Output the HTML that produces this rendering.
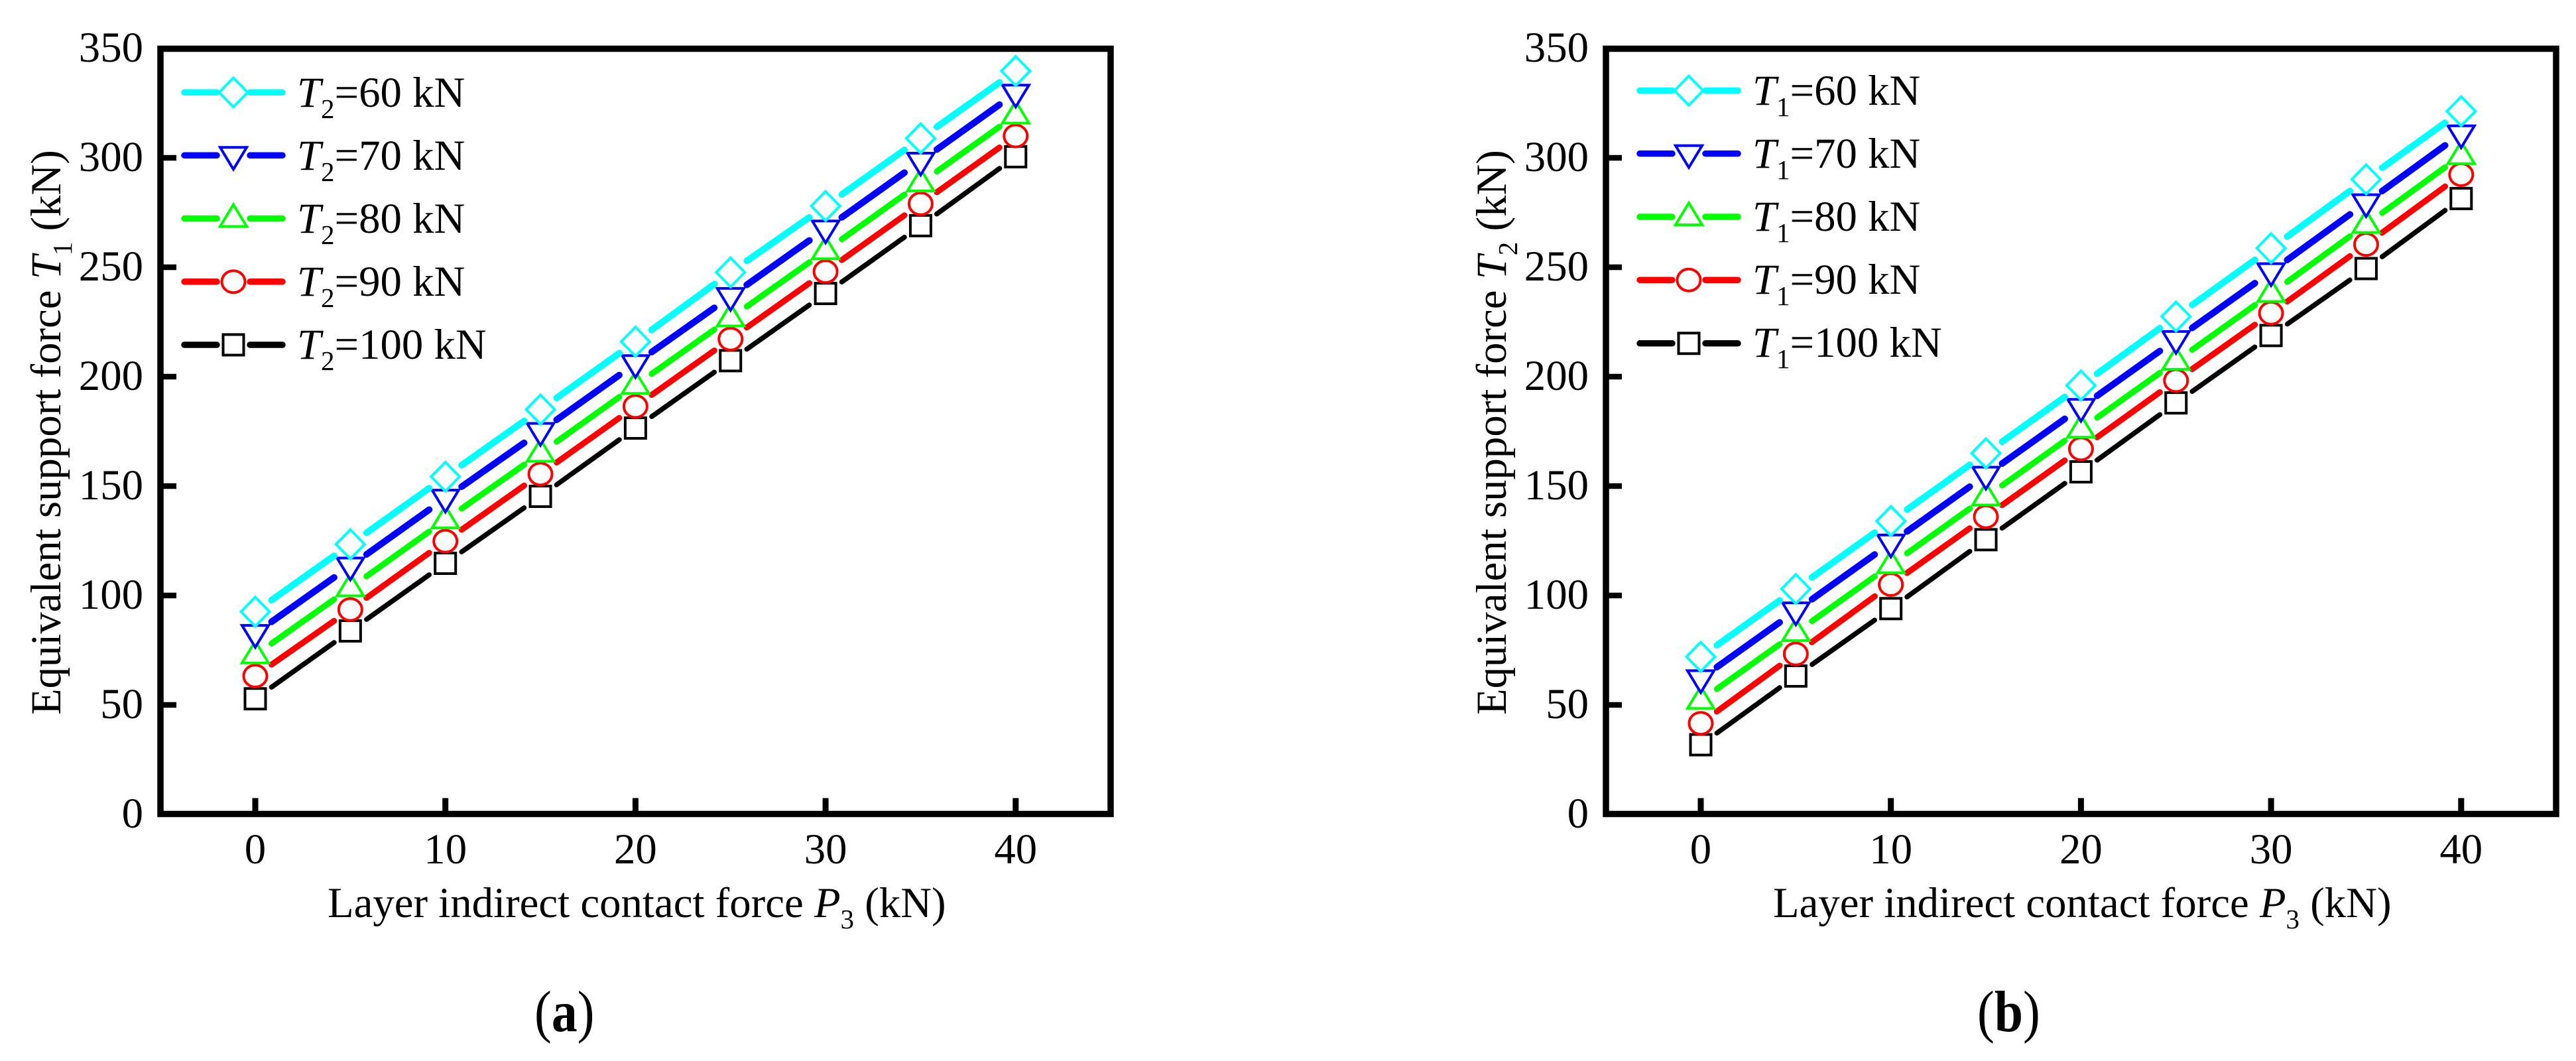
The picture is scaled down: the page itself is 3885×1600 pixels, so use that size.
<!DOCTYPE html>
<html lang="en">
<head>
<meta charset="utf-8">
<title>Equivalent support force vs layer indirect contact force</title>
<style>
html,body{margin:0;padding:0;background:#fff;}
body{width:3885px;height:1600px;overflow:hidden;}
svg{display:block;}
text{font-family:"Liberation Serif",serif;font-size:64.8px;fill:#000;}
.sub{font-size:41px;}
.it{font-style:italic;}
.cap{font-size:80px;}
.b{font-weight:bold;}
</style>
</head>
<body>
<svg id="figure" xmlns="http://www.w3.org/2000/svg" width="3885" height="1600" viewBox="0 0 3885 1600">
  <rect x="0" y="0" width="3885" height="1600" fill="#fff"/>

  <g id="panel-a">
    <g id="marks-a"></g>
    <text transform="translate(91 1078) rotate(-90)">Equivalent support force <tspan class="it">T</tspan><tspan class="sub" dy="17">1</tspan><tspan dy="-17"> (kN)</tspan></text>
    <text x="494" y="1383">Layer indirect contact force <tspan class="it">P</tspan><tspan class="sub" dy="17">3</tspan><tspan dy="-17"> (kN)</tspan></text>
    <text x="448" y="161"><tspan class="it">T</tspan><tspan class="sub" dy="17">2</tspan><tspan dy="-17">=60 kN</tspan></text>
    <text x="448" y="256"><tspan class="it">T</tspan><tspan class="sub" dy="17">2</tspan><tspan dy="-17">=70 kN</tspan></text>
    <text x="448" y="351"><tspan class="it">T</tspan><tspan class="sub" dy="17">2</tspan><tspan dy="-17">=80 kN</tspan></text>
    <text x="448" y="446"><tspan class="it">T</tspan><tspan class="sub" dy="17">2</tspan><tspan dy="-17">=90 kN</tspan></text>
    <text x="448" y="541"><tspan class="it">T</tspan><tspan class="sub" dy="17">2</tspan><tspan dy="-17">=100 kN</tspan></text>
    <text class="cap" transform="translate(806 1555) scale(0.97 1.1)">(<tspan class="b">a</tspan>)</text>
  </g>

  <g id="panel-b">
    <g id="marks-b"></g>
    <text transform="translate(2271 1078) rotate(-90)">Equivalent support force <tspan class="it">T</tspan><tspan class="sub" dy="17">2</tspan><tspan dy="-17"> (kN)</tspan></text>
    <text x="2674" y="1383">Layer indirect contact force <tspan class="it">P</tspan><tspan class="sub" dy="17">3</tspan><tspan dy="-17"> (kN)</tspan></text>
    <text x="2643" y="158"><tspan class="it">T</tspan><tspan class="sub" dy="17">1</tspan><tspan dy="-17">=60 kN</tspan></text>
    <text x="2643" y="253"><tspan class="it">T</tspan><tspan class="sub" dy="17">1</tspan><tspan dy="-17">=70 kN</tspan></text>
    <text x="2643" y="348"><tspan class="it">T</tspan><tspan class="sub" dy="17">1</tspan><tspan dy="-17">=80 kN</tspan></text>
    <text x="2643" y="443"><tspan class="it">T</tspan><tspan class="sub" dy="17">1</tspan><tspan dy="-17">=90 kN</tspan></text>
    <text x="2643" y="538"><tspan class="it">T</tspan><tspan class="sub" dy="17">1</tspan><tspan dy="-17">=100 kN</tspan></text>
    <text class="cap" transform="translate(2982 1555) scale(0.97 1.1)">(<tspan class="b">b</tspan>)</text>
  </g>
</svg>

<script>
// Shared axes
const xCategories = [0, 5, 10, 15, 20, 25, 30, 35, 40];
const xTickLabels = [0, 10, 20, 30, 40];
const yTickLabels = [0, 50, 100, 150, 200, 250, 300, 350];

// Panel (a): T1 for each value of T2
const panelA60  = [92.6, 123.4, 154.3, 185, 216, 247.7, 278, 308.9, 339.7];
const panelA70  = [82.7, 113.5, 144.5, 175, 206, 236.7, 267.5, 298.5, 329.6];
const panelA80  = [72.8, 103.5, 134.5, 165, 196, 226.8, 257.5, 288.5, 319.5];
const panelA90  = [63.2, 93.6, 124.8, 155.5, 186.4, 217.2, 248, 279, 310];
const panelA100 = [52.8, 83.8, 114.7, 145.3, 176.5, 207.3, 238, 269, 300.5];

// Panel (b): T2 for each value of T1
const panelB60  = [72, 103, 134, 165, 196, 227.5, 258.7, 290.2, 321.3];
const panelB70  = [62, 93, 124, 155, 186, 217, 248, 279.5, 311];
const panelB80  = [52, 83, 114, 145, 176, 207, 238, 269.5, 301];
const panelB90  = [41.6, 73.3, 105, 136, 167, 198.2, 229, 260.4, 292.3];
const panelB100 = [31.8, 63.2, 94, 125.5, 156.5, 188, 218.8, 249.4, 281.4];

const seriesLevels = [100, 90, 80, 70, 60];
const SVGNS = 'http://www.w3.org/2000/svg';

const STYLE = {
  60:  {color: '#00ffff', lw: 10, shape: 'diamond'},
  70:  {color: '#0000ff', lw: 10, shape: 'down'},
  80:  {color: '#00ff00', lw: 9, shape: 'up'},
  90:  {color: '#ff0000', lw: 9, shape: 'circle'},
  100: {color: '#000000', lw: 7.5, shape: 'square'}
};

function yScale(v) { return 1228 - v * 3.3; }
function xScaleFor(offset) { return function (v) { return offset + 385 + v * 28.67; }; }

function el(parent, tag, attrs) {
  const n = document.createElementNS(SVGNS, tag);
  for (const k in attrs) n.setAttribute(k, attrs[k]);
  parent.appendChild(n);
  return n;
}

function drawMarker(parent, shape, cx, cy, color, name) {
  let m;
  const s = {fill: '#fff', stroke: color, 'stroke-width': 4, 'stroke-linejoin': 'miter'};
  if (shape === 'circle') {
    m = el(parent, 'ellipse', Object.assign({cx: cx, cy: cy, rx: 17.5, ry: 16.5}, s));
  } else if (shape === 'square') {
    m = el(parent, 'rect', Object.assign({x: cx - 15.5, y: cy - 15.5, width: 31, height: 31}, s));
  } else {
    let pts;
    if (shape === 'diamond') pts = [[0, -22], [21.5, 0], [0, 22], [-21.5, 0]];
    if (shape === 'down') pts = [[-20, -12], [20, -12], [0, 21]];
    if (shape === 'up') pts = [[-20, 12], [20, 12], [0, -21]];
    m = el(parent, 'polygon', Object.assign({points: pts.map(function (p) { return (cx + p[0]) + ',' + (cy + p[1]); }).join(' ')}, s));
  }
  
  
  return m;
}

function drawPanel(prefix, groupId, offset, data, legendLines) {
  const root = document.getElementById(groupId);
  const X = xScaleFor(offset);
  const left = offset + 242, right = offset + 1675, top = 73.5, bottom = 1227.5;

  // ticks and tick labels
  yTickLabels.forEach(function (t) {
    const y = yScale(t);
    if (t > 0 && t < 350) {
      const tick = el(root, 'line', {x1: left, x2: left + 24, y1: y, y2: y, stroke: '#000', 'stroke-width': 8.5});
      
      
    }
    const lab = el(root, 'text', {x: offset + 216, y: y + 20, 'text-anchor': 'end'});
    lab.textContent = String(t);
    
    
  });
  xTickLabels.forEach(function (t) {
    const x = X(t);
    const tick = el(root, 'line', {x1: x, x2: x, y1: bottom, y2: bottom - 24, stroke: '#000', 'stroke-width': 9});
    
    
    const lab = el(root, 'text', {x: x, y: 1302, 'text-anchor': 'middle'});
    lab.textContent = String(t);
    
    
  });

  // frame
  const frame = el(root, 'rect', {x: left, y: top, width: right - left, height: bottom - top, fill: 'none', stroke: '#000', 'stroke-width': 9.5});
  
  

  // series, black first so cyan sits on top
  seriesLevels.forEach(function (level) {
    const st = STYLE[level];
    const values = data[level];
    const g = el(root, 'g', {});
    
    
    const gap = 30;
    for (let i = 0; i < values.length - 1; i++) {
      const x0 = X(xCategories[i]), y0 = yScale(values[i]);
      const x1 = X(xCategories[i + 1]), y1 = yScale(values[i + 1]);
      const len = Math.hypot(x1 - x0, y1 - y0);
      const ux = (x1 - x0) / len, uy = (y1 - y0) / len;
      const seg = el(g, 'line', {
        x1: x0 + ux * gap, y1: y0 + uy * gap,
        x2: x1 - ux * gap, y2: y1 - uy * gap,
        stroke: st.color, 'stroke-width': st.lw, 'stroke-linecap': 'round'
      });
      
      
    }
    values.forEach(function (v, i) {
      drawMarker(g, st.shape, X(xCategories[i]), yScale(v), st.color, prefix + '-point-' + level);
    });
  });

  // legend keys
  legendLines.rows.forEach(function (row) {
    const st = STYLE[row.level];
    const g = el(root, 'g', {});
    
    
    const cx = legendLines.cx;
    el(g, 'line', {x1: cx - 74, x2: cx - 25, y1: row.y, y2: row.y, stroke: st.color, 'stroke-width': 9.5, 'stroke-linecap': 'round'});
    el(g, 'line', {x1: cx + 25, x2: cx + 74, y1: row.y, y2: row.y, stroke: st.color, 'stroke-width': 9.5, 'stroke-linecap': 'round'});
    drawMarker(g, st.shape, cx, row.y, st.color, prefix + '-legend-marker-' + row.level);
  });
}

drawPanel('panel-a', 'marks-a', 0,
  {60: panelA60, 70: panelA70, 80: panelA80, 90: panelA90, 100: panelA100},
  {cx: 352, rows: [{level: 60, y: 139.3}, {level: 70, y: 234.3}, {level: 80, y: 329.5}, {level: 90, y: 424.8}, {level: 100, y: 520}]});

drawPanel('panel-b', 'marks-b', 2180,
  {60: panelB60, 70: panelB70, 80: panelB80, 90: panelB90, 100: panelB100},
  {cx: 2547, rows: [{level: 60, y: 136.6}, {level: 70, y: 231.6}, {level: 80, y: 327}, {level: 90, y: 422.2}, {level: 100, y: 517.8}]});
</script>
</body>
</html>
